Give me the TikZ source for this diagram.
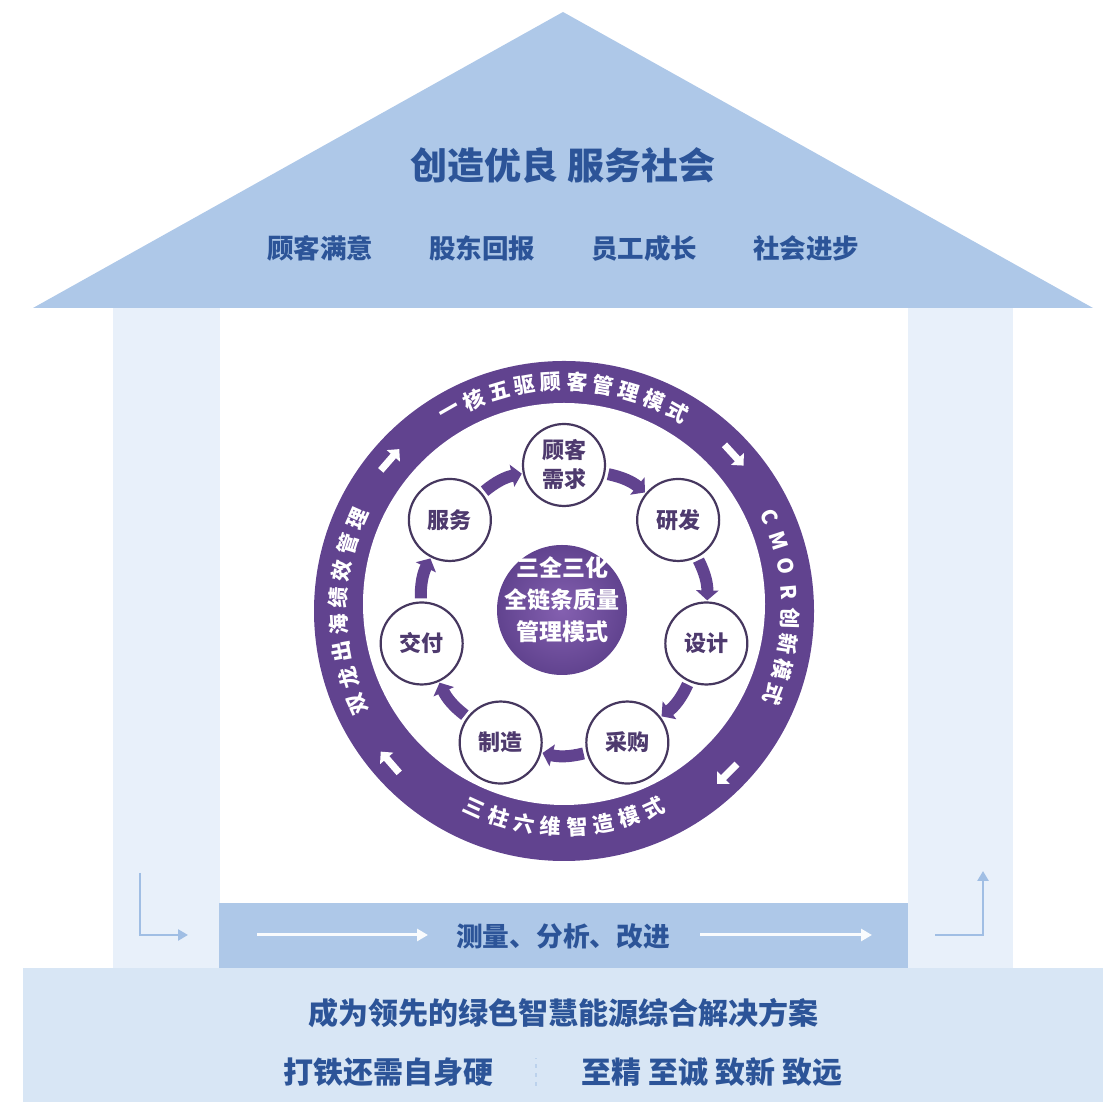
\documentclass[tikz,border=0pt]{standalone}
\usepackage{fontspec}
\setmainfont{Noto Sans CJK SC}
\usepackage{tikz}
\usetikzlibrary{arrows.meta}
\definecolor{roofblue}{RGB}{174, 200, 232}
\definecolor{pillarblue}{RGB}{232, 240, 250}
\definecolor{baseblue}{RGB}{216, 230, 245}
\definecolor{inkblue}{RGB}{44, 84, 152}
\definecolor{lineblue}{RGB}{160, 190, 228}
\definecolor{ringpurple}{RGB}{97, 67, 143}
\definecolor{ringpurpleL}{RGB}{132, 96, 176}
\definecolor{stageline}{RGB}{70, 55, 95}
\definecolor{stageink}{RGB}{78, 58, 110}

\begin{document}
\begin{tikzpicture}[x = 1pt, y = 1pt,
			stage/.style = {circle, draw = stageline, line width = 2.2pt, fill = white, minimum size = 82pt, inner sep = 0pt, align = center, text = stageink, font = \bfseries\fontsize{22pt}{29pt}\selectfont},
			core/.style = {circle, inner color = ringpurpleL, outer color = ringpurple, minimum size = 130pt, inner sep = 0pt},
			coretext/.style = {align = center, text = white, inner sep = 0pt, font = \bfseries\fontsize{23pt}{32pt}\selectfont},
			ringtext/.style = {text = white, inner sep = 0pt, font = \bfseries\fontsize{21pt}{21pt}\selectfont},
			bluetext/.style = {text = inkblue, inner sep = 0pt, font = \bfseries\fontsize{26.5pt}{30pt}\selectfont},
			flow/.style = {ringpurple, line width = 12pt, -{Triangle[length = 10pt, width = 22pt]}, shorten < = 3pt, shorten > = 1pt},
			spin/.style = {white, line width = 7pt, -{Triangle[length = 9pt, width = 17pt]}},
			barflow/.style = {white!92!roofblue, line width = 3pt, -{Triangle[length = 11pt, width = 12pt]}},
			turn/.style = {lineblue, line width = 2.5pt, -{Triangle[length = 10pt, width = 11pt]}}]
			\useasboundingbox (0,0) rectangle (1103,1102);
			% house
			\fill[pillarblue] (113,134) rectangle (220,794);
			\fill[pillarblue] (908,134) rectangle (1013,794);
			\fill[roofblue] (219,134) rectangle (908,199);
			\fill[baseblue] (23,0) rectangle (1103,134);
			\fill[roofblue] (33,794) -- (563,1090) -- (1093,794) -- cycle;
			\node (motto) at (563,937) [bluetext, font = \bfseries\fontsize{37pt}{40pt}\selectfont] {创造优良 服务社会};
			\node (customer) at (320,854) [bluetext] {顾客满意};
			\node (holder) at (482,854) [bluetext] {股东回报};
			\node (staff) at (644,854) [bluetext] {员工成长};
			\node (society) at (806,854) [bluetext] {社会进步};
			\node (improve) at (563,166) [bluetext, font = \bfseries\fontsize{26.7pt}{30pt}\selectfont] {测量、分析、改进};
			\node (vision) at (563,89) [bluetext, font = \bfseries\fontsize{30pt}{32pt}\selectfont] {成为领先的绿色智慧能源综合解决方案};
			\node (spirit) at (388,30) [bluetext, font = \bfseries\fontsize{30pt}{32pt}\selectfont] {打铁还需自身硬};
			\node (values) at (712,30) [bluetext, font = \bfseries\fontsize{30pt}{32pt}\selectfont] {至精 至诚 致新 致远};
			\draw[lineblue!70, line width = 1.2pt, dash pattern = on 4pt off 5pt] (536,16) -- (536,44);
			\coordinate (barA) at (257,167);
			\coordinate (barB) at (428,167);
			\coordinate (barC) at (700,167);
			\coordinate (barD) at (872,167);
			\draw[barflow] (barA) -- (barB);
			\draw[barflow] (barC) -- (barD);
			\coordinate (downL) at (140,229);
			\coordinate (inL) at (188,167);
			\coordinate (outR) at (935,167);
			\coordinate (upR) at (983,231);
			\draw[turn] (downL) |- (inL);
			\draw[turn] (outR) -| (upR);
			% wheel
			\coordinate (ctr) at (564,491);
			\node (ring) at (ctr) [circle, fill = ringpurple, minimum size = 500pt, inner sep = 0pt] {};
			\node (hub) at (564,498) [circle, fill = white, minimum size = 402pt, inner sep = 0pt] {};
			\node (core) at (562,492) [core] {};
			\node (coremode) at (562,502) [coretext] {三全三化\\全链条质量\\管理模式};
			\node (demand) at ([shift = {(90:146)}]ctr) [stage] {顾客\\需求};
			\node (rd) at ([shift = {(38.57:146)}]ctr) [stage] {研发};
			\node (design) at ([shift = {(-12.86:146)}]ctr) [stage] {设计};
			\node (purchase) at ([shift = {(-64.29:146)}]ctr) [stage] {采购};
			\node (make) at ([shift = {(-115.71:146)}]ctr) [stage] {制造};
			\node (deliver) at ([shift = {(-167.14:146)}]ctr) [stage] {交付};
			\node (service) at ([shift = {(141.43:146)}]ctr) [stage] {服务};
			\draw[flow] (demand) to[bend left = 14] (rd);
			\draw[flow] (rd) to[bend left = 14] (design);
			\draw[flow] (design) to[bend left = 14] (purchase);
			\draw[flow] (purchase) to[bend left = 14] (make);
			\draw[flow] (make) to[bend left = 14] (deliver);
			\draw[flow] (deliver) to[bend left = 14] (service);
			\draw[flow] (service) to[bend left = 14] (demand);
			% ring texts
			\foreach \ch [count = \i from 0] in {一,核,五,驱,顾,客,管,理,模,式}
				\node (top\i) at ([shift = {({119.7-\i*6.6}:229)}]ctr) [ringtext, rotate = {29.7-\i*6.6}] {\ch};
			\foreach \ch [count = \i from 0] in {C,M,O,R,创,新,模,式}
				\node (right\i) at ([shift = {({24.6-\i*6.6}:226)}]ctr) [ringtext, rotate = {-65.4-\i*6.6}] {\ch};
			\foreach \ch [count = \i from 0] in {三,柱,六,维,智,造,模,式}
				\node (bottom\i) at ([shift = {({245.5+\i*7}:216)}]ctr) [ringtext, rotate = {335.5+\i*7}] {\ch};
			\foreach \ch [count = \i from 0] in {双,龙,出,海,绩,效,管,理}
				\node (left\i) at ([shift = {({204.2-\i*6.9}:226)}]ctr) [ringtext, rotate = {114.2-\i*6.9}] {\ch};
			\draw[spin] ([shift = {(142.5:231)}]ctr) -- ([shift = {(135.5:231)}]ctr);
			\draw[spin] ([shift = {(46:231)}]ctr) -- ([shift = {(39:231)}]ctr);
			\draw[spin] ([shift = {(-41.5:231)}]ctr) -- ([shift = {(-48.5:231)}]ctr);
			\draw[spin] ([shift = {(224.5:231)}]ctr) -- ([shift = {(217.5:231)}]ctr);
\end{tikzpicture}
\end{document}
